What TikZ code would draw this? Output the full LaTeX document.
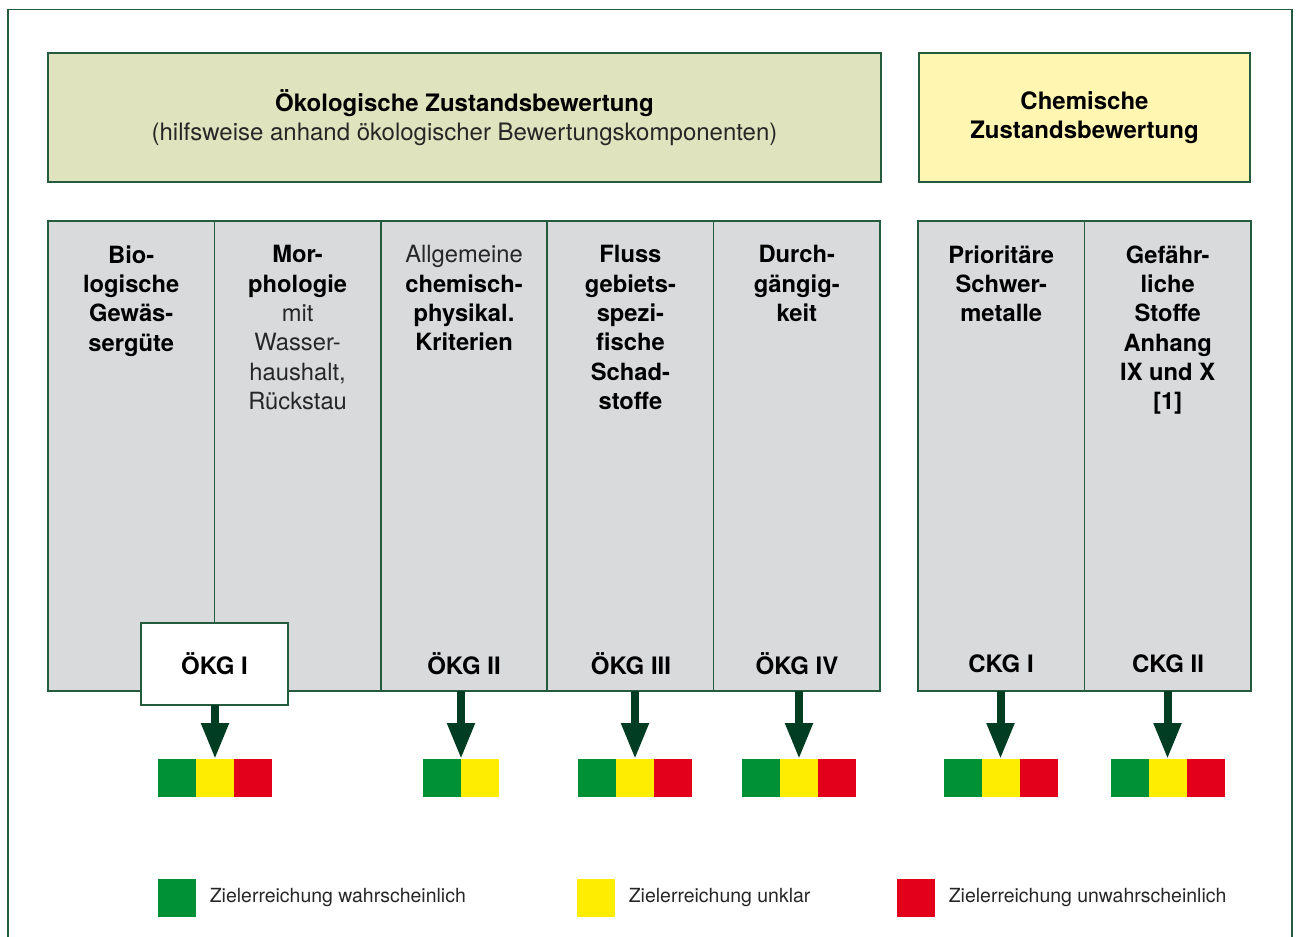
\documentclass[tikz,border=0pt]{standalone}
\usepackage{fontspec}
\setmainfont{TeX Gyre Heros}
\usetikzlibrary{positioning,arrows.meta}

\definecolor{framegreen}{RGB}{36,90,62}
\definecolor{arrowgreen}{RGB}{0,61,34}
\definecolor{headgreen}{RGB}{224,228,190}
\definecolor{headyellow}{RGB}{255,246,178}
\definecolor{colgray}{RGB}{217,218,220}
\definecolor{zgreen}{RGB}{0,145,54}
\definecolor{zyellow}{RGB}{255,237,0}
\definecolor{zred}{RGB}{226,0,26}

\tikzset{every picture/.style={line width=0.75pt}}
\tikzset{
  boxline/.style={draw=framegreen, line width=1.1pt, outer sep=0pt, inner sep=0pt},
  headbox/.style={boxline, minimum height=96.75pt, align=center, font=\fontsize{18}{22}\selectfont},
  colbox/.style={boxline, fill=colgray, minimum width=124.8pt, minimum height=352.5pt},
  coltext/.style={anchor=north, inner sep=0pt, align=center, font=\fontsize{17.8}{22}\selectfont\bfseries},
  kglabel/.style={inner sep=0pt, font=\fontsize{18}{22}\selectfont\bfseries},
  sq/.style={minimum size=28.5pt, inner sep=0pt, outer sep=0pt},
  bigarrow/.style={draw=arrowgreen, line width=6pt, -{Triangle[width=19.5pt,length=27pt]}},
  legtext/.style={inner sep=0pt, anchor=west, font=\fontsize{14.6}{17}\selectfont, text=black!85},
  light/.style={text=black!85}
}

\begin{document}
\begin{tikzpicture}[x=0.75pt,y=0.75pt,yscale=-1,xscale=1]
\useasboundingbox (0,0) rectangle (1298,937);

%Frame (open at the bottom)
\draw [framegreen, line width=1pt] (8,937) -- (8,9.5) -- (1292,9.5) -- (1292,937);

%Shape: Header boxes
\node [headbox, fill=headgreen, minimum width=624.75pt] (headOeko) at (464.5,117.5)
  {\textbf{Ökologische Zustandsbewertung}\\{\color{black!85}(hilfsweise anhand ökologischer Bewertungskomponenten)}};
\node [headbox, fill=headyellow, minimum width=248.25pt] (headChem) at (1084.5,117.5)
  {\textbf{Chemische}\\\textbf{Zustandsbewertung}};

%Shape: Columns
\node [colbox] (col1) at (131.2,456) {};
\node [colbox, right=0pt of col1] (col2) {};
\node [colbox, right=0pt of col2] (col3) {};
\node [colbox, right=0pt of col3] (col4) {};
\node [colbox, right=0pt of col4] (col5) {};
\node [colbox] (col6) at (1001.25,456) {};
\node [colbox, right=0pt of col6] (col7) {};

% Text Node
\node [coltext] (txt1) at ([yshift=18]col1.north) {Bio-\\logische\\Gewäs-\\sergüte};
\node [coltext] (txt2) at ([yshift=18]col2.north) {Mor-\\phologie\\\mdseries\color{black!85}mit\\\mdseries\color{black!85}Wasser-\\\mdseries\color{black!85}haushalt,\\\mdseries\color{black!85}Rückstau};
\node [coltext] (txt3) at ([yshift=18]col3.north) {\mdseries\color{black!85}Allgemeine\\chemisch-\\physikal.\\Kriterien};
\node [coltext] (txt4) at ([yshift=18]col4.north) {Fluss\\gebiets-\\spezi-\\fische\\Schad-\\stoffe};
\node [coltext] (txt5) at ([yshift=18]col5.north) {Durch-\\gängig-\\keit};
\node [coltext] (txt6) at ([yshift=18]col6.north) {Prioritäre\\Schwer-\\metalle};
\node [coltext] (txt7) at ([yshift=18]col7.north) {Gefähr-\\liche\\Stoffe\\Anhang\\IX und X\\{[1]}};

%Shape: ÖKG I box
\node [boxline, fill=white, minimum width=110.25pt, minimum height=61.5pt, font=\fontsize{18}{22}\selectfont\bfseries] (kg1) at (214.5,664) {ÖKG I};

% Text Node
\node [kglabel] (kg2) at (464,664) {ÖKG II};
\node [kglabel] (kg3) at (631,664) {ÖKG III};
\node [kglabel] (kg4) at (797,664) {ÖKG IV};
\node [kglabel] (kg5) at (1001,664) {CKG I};
\node [kglabel] (kg6) at (1168,664) {CKG II};

%Shape: Colour bars
\node [sq, fill=zyellow] (b1y) at (215,778) {};
\node [sq, fill=zgreen, left=0pt of b1y] (b1g) {};
\node [sq, fill=zred, right=0pt of b1y] (b1r) {};

\node [sq, fill=zgreen] (b2g) at (442,778) {};
\node [sq, fill=zyellow, right=0pt of b2g] (b2y) {};

\node [sq, fill=zyellow] (b3y) at (635,778) {};
\node [sq, fill=zgreen, left=0pt of b3y] (b3g) {};
\node [sq, fill=zred, right=0pt of b3y] (b3r) {};

\node [sq, fill=zyellow] (b4y) at (799,778) {};
\node [sq, fill=zgreen, left=0pt of b4y] (b4g) {};
\node [sq, fill=zred, right=0pt of b4y] (b4r) {};

\node [sq, fill=zyellow] (b5y) at (1000.5,778) {};
\node [sq, fill=zgreen, left=0pt of b5y] (b5g) {};
\node [sq, fill=zred, right=0pt of b5y] (b5r) {};

\node [sq, fill=zyellow] (b6y) at (1167.5,778) {};
\node [sq, fill=zgreen, left=0pt of b6y] (b6g) {};
\node [sq, fill=zred, right=0pt of b6y] (b6r) {};

%Straight Lines: arrows
\draw [bigarrow] (kg1.south -| b1y.north) -- (b1y.north);
\draw [bigarrow] (col3.south -| b2g.north east) -- (b2g.north east);
\draw [bigarrow] (col4.south -| b3y.north) -- (b3y.north);
\draw [bigarrow] (col5.south -| b4y.north) -- (b4y.north);
\draw [bigarrow] (col6.south -| b5y.north) -- (b5y.north);
\draw [bigarrow] (col7.south -| b6y.north) -- (b6y.north);

%Legend
\node [sq, fill=zgreen] (lg1) at (177,898) {};
\node [legtext, right=10pt of lg1] (lt1) {Zielerreichung wahrscheinlich};
\node [sq, fill=zyellow] (lg2) at (596,898) {};
\node [legtext, right=10pt of lg2] (lt2) {Zielerreichung unklar};
\node [sq, fill=zred] (lg3) at (916,898) {};
\node [legtext, right=10pt of lg3] (lt3) {Zielerreichung unwahrscheinlich};

\end{tikzpicture}
\end{document}
